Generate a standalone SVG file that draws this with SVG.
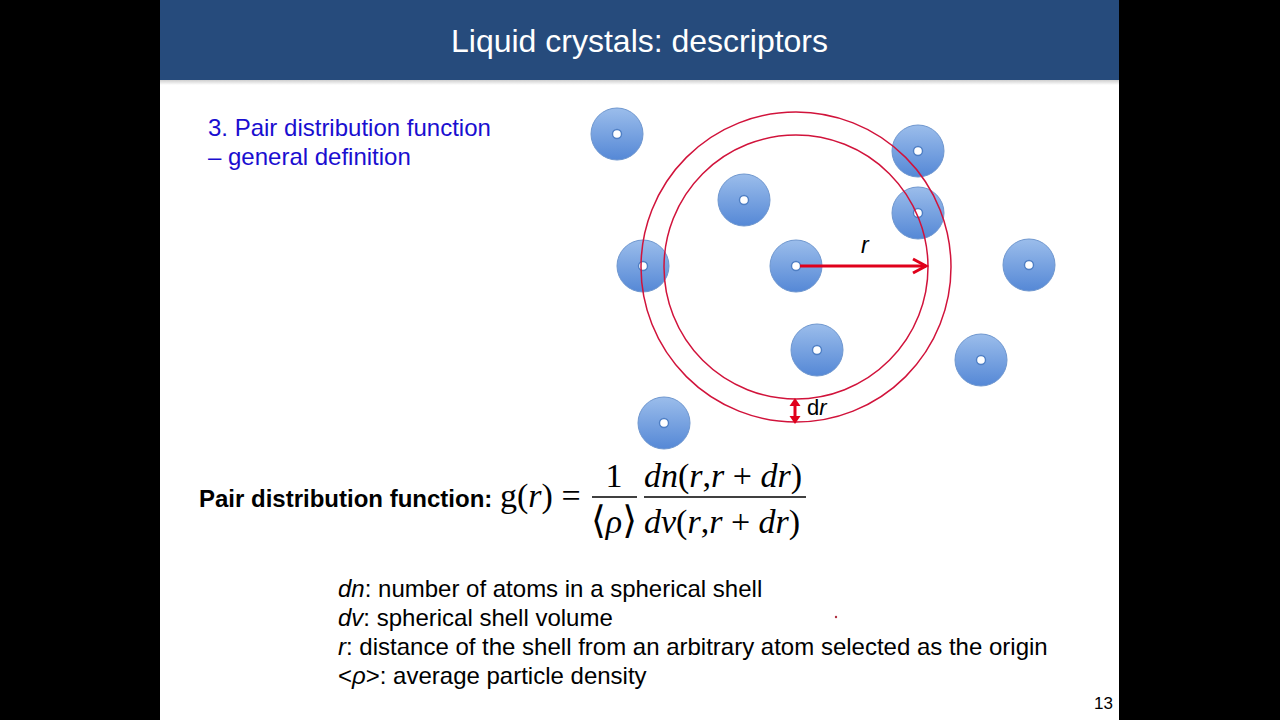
<svg xmlns="http://www.w3.org/2000/svg" width="1280" height="720" viewBox="0 0 1280 720">
<defs>
<linearGradient id="atomGrad" x1="0" y1="0" x2="0" y2="1">
<stop offset="0" stop-color="#9bbdeb"/>
<stop offset="1" stop-color="#5588d6"/>
</linearGradient>
<linearGradient id="shadow" x1="0" y1="0" x2="0" y2="1">
<stop offset="0" stop-color="#cfcfcf"/>
<stop offset="1" stop-color="#ffffff"/>
</linearGradient>
<symbol id="atom" overflow="visible">
<circle cx="0" cy="0" r="26" fill="url(#atomGrad)" stroke="#6f97cf" stroke-width="1"/>
<circle cx="0" cy="0" r="4.5" fill="#ffffff" stroke="#4f7fc4" stroke-width="1.4"/>
</symbol>
</defs>
<style>
.sans{font-family:"Liberation Sans",Arial,sans-serif}
.serif{font-family:"Liberation Serif","DejaVu Serif","Times New Roman",serif}
.body{font-size:24px;fill:#000}
.blue{font-size:24px;fill:#1a0ed0}
.shell{fill:none;stroke:#d1133b;stroke-width:1.5}
.red{stroke:#e0001b;fill:none;stroke-width:3}
.math{font-size:34px;fill:#000}
</style>
<rect x="0" y="0" width="1280" height="720" fill="#000"/>
<rect x="160" y="0" width="959" height="720" fill="#fff"/>
<rect x="160" y="80" width="959" height="5" fill="url(#shadow)"/>
<g id="header">
<rect x="160" y="0" width="959" height="80" fill="#264b7c"/>
<text class="sans" x="639.5" y="52" font-size="32" fill="#fff" text-anchor="middle">Liquid crystals: descriptors</text>
</g>
<g id="subtitle">
<text class="sans blue" x="208" y="136">3. Pair distribution function</text>
<text class="sans blue" x="208" y="165">– general definition</text>
</g>
<g id="atoms">
<g id="atom1"><use href="#atom" x="617" y="134"/></g>
<g id="atom2"><use href="#atom" x="918" y="151"/></g>
<g id="atom3"><use href="#atom" x="744" y="200"/></g>
<g id="atom4"><use href="#atom" x="918" y="213"/></g>
<g id="atom5"><use href="#atom" x="643" y="266"/></g>
<g id="atom6"><use href="#atom" x="796" y="266"/></g>
<g id="atom7"><use href="#atom" x="1029" y="265"/></g>
<g id="atom8"><use href="#atom" x="817" y="350"/></g>
<g id="atom9"><use href="#atom" x="981" y="360"/></g>
<g id="atom10"><use href="#atom" x="664" y="423"/></g>
</g>
<g id="shells">
<circle class="shell" cx="796" cy="267" r="155"/>
<circle class="shell" cx="796" cy="267" r="132"/>
</g>
<g id="connectors">
<line class="red" x1="800" y1="266" x2="926" y2="266"/>
<polyline class="red" points="913,259 926,266 913,273"/>
<line class="red" x1="795" y1="403" x2="795" y2="419"/>
<polygon points="795,398 789.5,406 800.5,406" fill="#e0001b"/>
<polygon points="795,424 789.5,416 800.5,416" fill="#e0001b"/>
</g>
<g id="labels">
<text class="sans" x="861" y="253" font-size="23" font-style="italic">r</text>
<text class="sans" x="807" y="415" font-size="22">d<tspan font-style="italic">r</tspan></text>
</g>
<g id="formula">
<text class="sans" x="199" y="507" font-size="24" font-weight="bold">Pair distribution function:</text>
<text class="serif math" x="500" y="507">g(<tspan font-style="italic">r</tspan>) =</text>
<text class="serif math" x="614" y="487" text-anchor="middle">1</text>
<line x1="592" y1="497" x2="637" y2="497" stroke="#000" stroke-width="1.5"/>
<text class="serif math" x="614" y="533" text-anchor="middle"><tspan font-size="38">⟨</tspan><tspan font-style="italic">ρ</tspan><tspan font-size="38">⟩</tspan></text>
<text class="serif math" x="644" y="487"><tspan font-style="italic">dn</tspan>(<tspan font-style="italic">r</tspan>,<tspan font-style="italic">r</tspan> + <tspan font-style="italic">dr</tspan>)</text>
<line x1="644" y1="497" x2="806" y2="497" stroke="#000" stroke-width="1.5"/>
<text class="serif math" x="644" y="533"><tspan font-style="italic">dv</tspan>(<tspan font-style="italic">r</tspan>,<tspan font-style="italic">r</tspan> + <tspan font-style="italic">dr</tspan>)</text>
</g>
<g id="definitions">
<text class="sans body" x="338" y="597"><tspan font-style="italic">dn</tspan>: number of atoms in a spherical shell</text>
<text class="sans body" x="338" y="626"><tspan font-style="italic">dv</tspan>: spherical shell volume</text>
<text class="sans body" x="338" y="655"><tspan font-style="italic">r</tspan>: distance of the shell from an arbitrary atom selected as the origin</text>
<text class="sans body" x="338" y="684">&lt;<tspan font-style="italic">ρ</tspan>&gt;: average particle density</text>
</g>
<circle cx="836" cy="617" r="1.2" fill="#b03040"/>
<text class="sans" x="1113" y="709" font-size="17" text-anchor="end">13</text>
</svg>
